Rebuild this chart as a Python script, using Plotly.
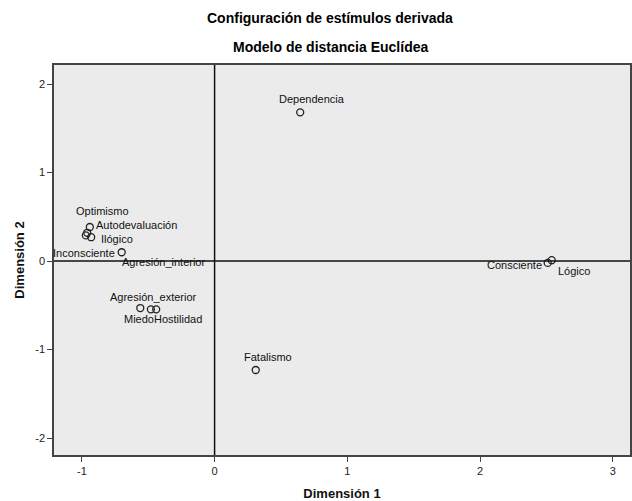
import plotly.graph_objects as go

stimuli = ["Dependencia", "Fatalismo", "Consciente", "Lógico", "Optimismo",
           "Autodevaluación", "Ilógico", "Inconsciente", "Agresión_interior",
           "Agresión_exterior", "Miedo", "Hostilidad"]
dim1 = [0.645, 0.31, 2.51, 2.54, -0.96, -0.94, -0.93, -0.97, -0.70, -0.56, -0.48, -0.44]
dim2 = [1.68, -1.23, -0.02, 0.01, 0.32, 0.385, 0.27, 0.29, 0.10, -0.53, -0.545, -0.545]
tick_vals_x = [-1, 0, 1, 2, 3]
tick_text_x = ["-1", "0", "1", "2", "3"]
tick_vals_y = [-2, -1, 0, 1, 2]
tick_text_y = ["-2", "-1", "0", "1", "2"]

# label placement styles (anchor, xshift px, yshift px)
label_style = {
    "Dependencia": ("center", 12, 13),
    "Fatalismo": ("center", 12, 13),
    "Consciente": ("right", -4, -2),
    "Lógico": ("left", 4, -11),
    "Optimismo": ("center", 15, 22),
    "Autodevaluación": ("left", 4, 2),
    "Ilógico": ("left", 8, -2),
    "Inconsciente": ("right", 31, -18),
    "Agresión_interior": ("left", -2, -10),
    "Agresión_exterior": ("center", 13, 11),
    "Miedo": ("center", -12, -10),
    "Hostilidad": ("center", 22, -10),
}

FONT = "Liberation Sans, Arial, sans-serif"

fig = go.Figure()
fig.add_trace(go.Scatter(
    x=dim1, y=dim2, mode="markers",
    marker=dict(symbol="circle-open", size=7, color="#222222", line=dict(width=1.3, color="#222222")),
    hoverinfo="text", text=stimuli, showlegend=False,
))

for name, xv, yv in zip(stimuli, dim1, dim2):
    anc, xs, ys = label_style[name]
    fig.add_annotation(x=xv, y=yv, text=name, showarrow=False, xanchor=anc, yanchor="middle",
                       xshift=xs, yshift=ys, font=dict(family=FONT, size=11, color="#111111"))

# reference lines at zero
fig.add_shape(type="line", xref="x", yref="paper", x0=0, x1=0, y0=0, y1=1,
              line=dict(color="#111111", width=1.5))
fig.add_shape(type="line", xref="paper", yref="y", x0=0, x1=1, y0=0, y1=0,
              line=dict(color="#111111", width=1.5))

fig.add_annotation(text="<b>Configuración de estímulos derivada</b>", xref="paper", yref="paper",
                   x=(331 - 54) / 578, y=1, yshift=47, xanchor="center", yanchor="middle",
                   showarrow=False, font=dict(family=FONT, size=14, color="#000000"))
fig.add_annotation(text="<b>Modelo de distancia Euclídea</b>", xref="paper", yref="paper",
                   x=(331 - 54) / 578, y=1, yshift=18, xanchor="center", yanchor="middle",
                   showarrow=False, font=dict(family=FONT, size=14, color="#000000"))

fig.update_layout(
    width=632, height=501,
    margin=dict(l=54, r=0, t=65, b=46),
    paper_bgcolor="white", plot_bgcolor="#ebebeb",
    font=dict(family=FONT, size=11, color="#222222"),
    xaxis=dict(range=[-1.21, 3.13], tickvals=tick_vals_x, ticktext=tick_text_x, ticks="outside", ticklen=5,
               tickcolor="#444444", showgrid=False, zeroline=False, showline=True,
               linecolor="#444444", linewidth=1.5, mirror=True,
               title=dict(text="<b>Dimensión 1</b>", font=dict(size=13, color="#111111"), standoff=14),
               tickfont=dict(size=11, color="#222222")),
    yaxis=dict(range=[-2.19, 2.215], tickvals=tick_vals_y, ticktext=tick_text_y, ticks="outside", ticklen=5,
               tickcolor="#444444", showgrid=False, zeroline=False, showline=True,
               linecolor="#444444", linewidth=1.5, mirror=True,
               title=dict(text="<b>Dimensión 2</b>", font=dict(size=13, color="#111111"), standoff=8),
               tickfont=dict(size=11, color="#222222")),
)

fig.write_html("out.html", config={"displayModeBar": False},
               post_script="document.body.style.margin='0';document.body.style.overflow='hidden';")
